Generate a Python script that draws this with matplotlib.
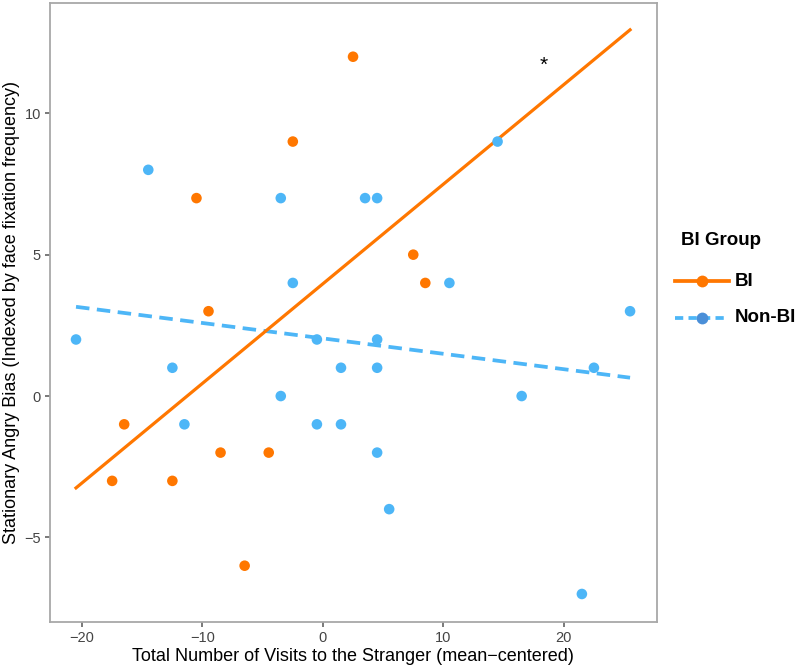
import matplotlib
matplotlib.use("Agg")
import matplotlib.pyplot as plt
from matplotlib.lines import Line2D
import numpy as np

plt.rcParams["font.family"] = ["Liberation Sans", "DejaVu Sans"]

# BI group (orange)
bi_x = [-17.5, -16.5, -12.5, -10.5, -9.5, -8.5, -6.5, -4.5, -2.5, 2.5, 7.5, 8.5]
bi_y = [-3, -1, -3, 7, 3, -2, -6, -2, 9, 12, 5, 4]

# Non-BI group (blue)
nonbi_x = [-20.5, -14.5, -12.5, -11.5, -3.5, -3.5, -2.5, -0.5, -0.5, 1.5, 1.5, 3.5,
           4.5, 4.5, 4.5, 4.5, 5.5, 10.5, 14.5, 16.5, 21.5, 22.5, 25.5]
nonbi_y = [2, 8, 1, -1, 7, 0, 4, 2, -1, 1, -1, 7,
           7, 2, 1, -2, -4, 4, 9, 0, -7, 1, 3]

group_names = ["BI", "Non-BI"]

orange = "#FF7700"
blue = "#4DB6F7"
W, H = 800, 667

fig = plt.figure(figsize=(8, 6.67), dpi=100)
ax = fig.add_axes([0.0625, 0.0675, 0.7585, 0.928])

# fitted lines over the full x range of all data
allx = np.array(bi_x + nonbi_x)
xs = np.array([allx.min(), allx.max()])

b1 = np.polyfit(bi_x, bi_y, 1)
b2 = np.polyfit(nonbi_x, nonbi_y, 1)

ax.plot(xs, np.polyval(b2, xs), color=blue, lw=2.7, ls=(0, (3.6, 2.0)), zorder=2)
ax.plot(xs, np.polyval(b1, xs), color=orange, lw=2.3, zorder=2)

ax.scatter(nonbi_x, nonbi_y, s=58, color=blue, edgecolors="none", zorder=3)
ax.scatter(bi_x, bi_y, s=58, color=orange, edgecolors="none", zorder=3)

ax.text(18.3, 11.7, "*", fontsize=15, ha="center", va="center", color="black")

ax.set_xlim(-22.66, 27.72)
ax.set_ylim(-7.99, 13.9)
ax.set_xticks([-20, -10, 0, 10, 20])
ax.set_yticks([-5, 0, 5, 10])
ax.set_xticklabels(["\u221220", "\u221210", "0", "10", "20"])
ax.set_yticklabels(["\u22125", "0", "5", "10"])

for s in ax.spines.values():
    s.set_color("#a8a8a8")
    s.set_linewidth(1.3)
ax.tick_params(length=3.5, width=1.1, color="#555555", labelcolor="#444444",
               labelsize=10.5, pad=3)

ax.set_xlabel("Total Number of Visits to the Stranger (mean\u2212centered)",
              fontsize=13, labelpad=2)
ax.set_ylabel("Stationary Angry Bias (Indexed by face fixation frequency)",
              fontsize=13, labelpad=3)

# legend drawn by hand in figure pixels
fig.text(681 / W, 1 - 240 / H, "BI Group", fontsize=13.5, fontweight="bold",
         ha="left", va="center")
key_y = [281, 318]
key_style = [dict(color=orange, ls="-"), dict(color=blue, ls=(0, (2.2, 1.4)))]
dot_col = [orange, "#4A8FD8"]
for name, ky, st, dc in zip(group_names, key_y, key_style, dot_col):
    yy = 1 - ky / H
    fig.add_artist(Line2D([675 / W, 729 / W], [yy, yy], lw=2.7,
                          transform=fig.transFigure, **st))
    fig.add_artist(Line2D([702 / W], [yy], marker="o", markersize=8.5,
                          color=dc, markeredgecolor="none", ls="none",
                          transform=fig.transFigure))
    fig.text(735 / W, yy, name, fontsize=13.5, fontweight="bold",
             ha="left", va="center")

fig.savefig("out.png", dpi=100)
